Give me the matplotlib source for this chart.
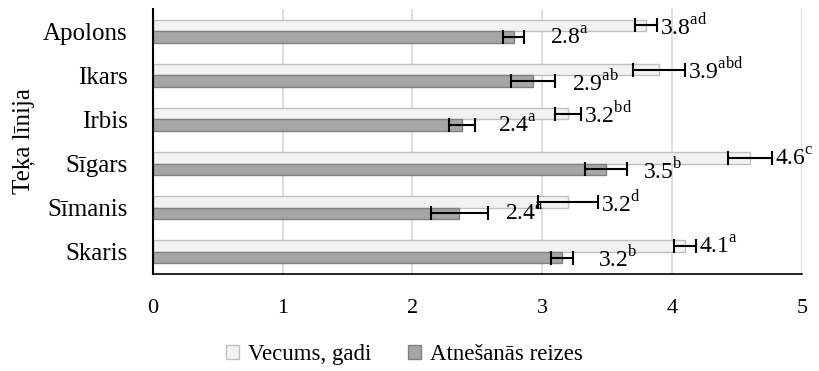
import matplotlib
matplotlib.use("Agg")
import matplotlib.pyplot as plt
import numpy as np

plt.rcParams['font.family'] = ['Liberation Serif', 'DejaVu Serif']
plt.rcParams['mathtext.fontset'] = 'custom'
plt.rcParams['mathtext.rm'] = 'Liberation Serif'

categories = ['Skaris', 'Sīmanis', 'Sīgars', 'Irbis', 'Ikars', 'Apolons']
age = [4.1, 3.2, 4.6, 3.2, 3.9, 3.8]
age_err = [0.085, 0.23, 0.17, 0.10, 0.20, 0.085]
age_sup = ['a', 'd', 'c', 'bd', 'abd', 'ad']
fetch = [3.15, 2.36, 3.49, 2.38, 2.93, 2.78]
fetch_err = [0.085, 0.22, 0.16, 0.10, 0.17, 0.08]
fetch_lbl = ['3.2', '2.4', '3.5', '2.4', '2.9', '2.8']
fetch_sup = ['b', 'a', 'b', 'a', 'ab', 'a']

fig = plt.figure(figsize=(8.19, 3.71), dpi=100)
ax = fig.add_axes([0.1865, 0.2615, 0.7925, 0.714])

y = np.arange(len(categories))
h = 0.26
ax.barh(y + h / 2, age, height=h, color='#f2f2f2', edgecolor='#bfbfbf',
        linewidth=1, label='Vecums, gadi', zorder=2)
ax.barh(y - h / 2, fetch, height=h, color='#a6a6a6', edgecolor='#808080',
        linewidth=1, label='Atnešanās reizes', zorder=2)
ax.errorbar(age, y + h / 2, xerr=age_err, fmt='none', ecolor='black',
            elinewidth=1.5, capsize=4.7, capthick=1.5, zorder=3)
ax.errorbar(fetch, y - h / 2, xerr=fetch_err, fmt='none', ecolor='black',
            elinewidth=1.5, capsize=4.7, capthick=1.5, zorder=3)

for i in range(len(categories)):
    ax.annotate('%.1f$^{\\mathrm{%s}}$' % (age[i], age_sup[i]),
                (age[i] + age_err[i], y[i] + h / 2), xytext=(2, -1),
                textcoords='offset points', ha='left', va='center', fontsize=17)
    # dark labels sit clear of both the bar and its error bar
    lx = max(fetch[i] + 0.28, fetch[i] + fetch_err[i] + 0.13)
    ax.annotate('%s$^{\\mathrm{%s}}$' % (fetch_lbl[i], fetch_sup[i]),
                (lx, y[i] - h / 2), xytext=(0, -1),
                textcoords='offset points', ha='left', va='center', fontsize=17)

ax.set_xlim(0, 5)
ax.set_ylim(-0.5, len(categories) - 0.5)
ax.set_xticks(range(6))
ax.set_yticks(y)
ax.set_yticklabels(categories)
ax.tick_params(axis='both', length=0)
ax.tick_params(axis='y', pad=18, labelsize=18)
ax.tick_params(axis='x', pad=18, labelsize=16)
ax.grid(axis='x', color='#d9d9d9', linewidth=1.2, zorder=0)
ax.set_axisbelow(True)
for s in ['top', 'right']:
    ax.spines[s].set_visible(False)
ax.spines['left'].set_linewidth(1.5)
ax.spines['bottom'].set_linewidth(1.2)
ax.set_ylabel('Teķa līnija', fontsize=18, labelpad=6)

fig.legend(loc='center', bbox_to_anchor=(0.494, 0.045), ncol=2, frameon=False,
           fontsize=16.5, handlelength=0.55, handleheight=0.55, handletextpad=0.4,
           columnspacing=1.6)

fig.savefig('out.png', dpi=100)
